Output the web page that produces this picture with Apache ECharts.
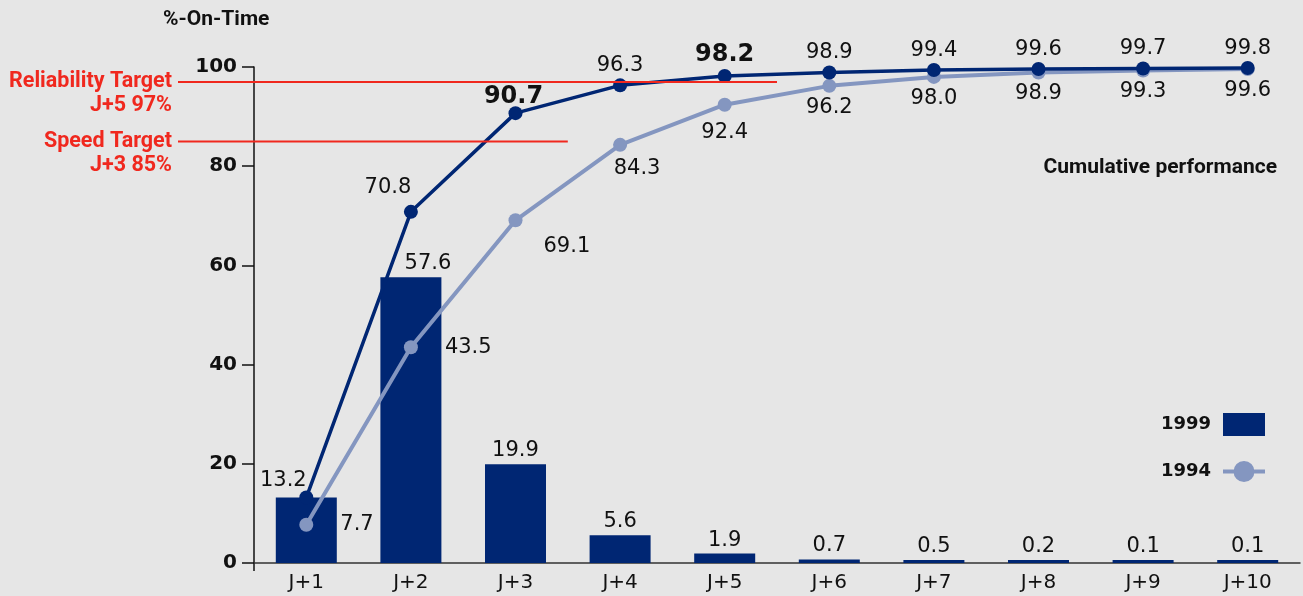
<!DOCTYPE html>
<html><head><meta charset="utf-8">
<script src="https://cdn.jsdelivr.net/npm/echarts@6/dist/echarts.min.js"></script>
<style>html,body{margin:0;padding:0;background:#e6e6e6}#c{width:1303px;height:596px}</style>
</head><body><div id="c"></div>
<script>
const categories = ['J+1','J+2','J+3','J+4','J+5','J+6','J+7','J+8','J+9','J+10'];
const dist1999 = [13.2, 57.6, 19.9, 5.6, 1.9, 0.7, 0.5, 0.2, 0.1, 0.1];
const cum1999 = [13.2, 70.8, 90.7, 96.3, 98.2, 98.9, 99.4, 99.6, 99.7, 99.8];
const cum1994 = [7.7, 43.5, 69.1, 84.3, 92.4, 96.2, 98.0, 98.9, 99.3, 99.6];
const yTicks = [0, 20, 40, 60, 80, 100];
const targetNames = ['Reliability Target', 'Speed Target'];
const targetSubs = ['J+5 97%', 'J+3 85%'];
const targetValues = [97, 85];
const targetDays = [5, 3];

const FONT = 'DejaVu Sans';
const NAVY = '#002673';
const LIGHT = '#8496c0';
const RED = '#f0281e';
const TXT = '#111111';
const fmt = v => Number(v).toFixed(1);

const chart = echarts.init(document.getElementById('c'), null, {renderer: 'canvas'});

const barData = dist1999.map((v, i) => {
  const d = {value: v};
  if (i === 0) d.label = {show: false};
  if (i === 1) d.label = {offset: [17, 0]};
  return d;
});
const cum99Data = cum1999.map((v, i) => {
  const d = {value: v};
  if (i === 0) d.label = {offset: [-23, 3]};
  if (i === 1) d.label = {offset: [-23, -5]};
  if (i === 2) d.label = {fontSize: 24, fontWeight: 'bold', offset: [-2, 5]};
  if (i === 4) d.label = {fontSize: 24, fontWeight: 'bold'};
  return d;
});
const cum94Data = cum1994.map((v, i) => {
  const d = {value: v};
  if (i === 0 || i === 1) d.label = {position: 'right', distance: 27};
  if (i === 2) d.label = {position: 'right', distance: 21, offset: [0, 26]};
  if (i === 3) d.label = {offset: [17, 2]};
  if (i === 4) d.label = {offset: [0, 6]};
  return d;
});

const lineIcon = 'path://M0,9H44V13H0Z M22,0A11,11,0,1,1,21.99,0Z';

chart.setOption({
  backgroundColor: '#e6e6e6',
  animation: false,
  textStyle: {fontFamily: FONT},
  grid: {left: 254, right: 3, top: 67, bottom: 33, containLabel: false},
  legend: {
    orient: 'vertical', right: 33, top: 408, align: 'right',
    itemWidth: 42, itemHeight: 23, itemGap: 25,
    data: [{name: '1999', icon: 'rect'}, {name: '1994', icon: lineIcon}],
    textStyle: {fontSize: 18, fontWeight: 'bold', color: TXT, fontFamily: FONT, padding: [0, 7, 0, 0]}
  },
  xAxis: {
    type: 'category', data: categories,
    axisLine: {lineStyle: {color: '#333', width: 1.5}},
    axisTick: {show: false},
    axisLabel: {fontSize: 20, color: TXT, margin: 10, fontFamily: FONT}
  },
  yAxis: {
    type: 'value', min: yTicks[0], max: yTicks[yTicks.length - 1], interval: yTicks[1] - yTicks[0],
    axisLine: {show: true, lineStyle: {color: '#111', width: 1.5}},
    axisTick: {show: true, length: 12, lineStyle: {color: '#111', width: 1.5}},
    splitLine: {show: false},
    axisLabel: {fontSize: 20, fontWeight: 'bold', color: TXT, margin: 17, fontFamily: FONT}
  },
  series: [
    {
      name: '1999', type: 'bar', data: barData, barWidth: 61, barMinHeight: 3,
      itemStyle: {color: NAVY},
      label: {show: true, position: 'top', distance: 3, fontSize: 21, color: TXT, fontFamily: FONT, formatter: p => fmt(p.value)},
      z: 1
    },
    {
      name: '1994', type: 'line', data: cum94Data,
      symbol: 'circle', symbolSize: 14, showSymbol: true,
      lineStyle: {color: LIGHT, width: 4}, itemStyle: {color: LIGHT},
      label: {show: true, position: 'bottom', distance: 4, fontSize: 21, color: TXT, fontFamily: FONT, formatter: p => fmt(p.value)},
      z: 3
    },
    {
      name: 'Cumulative 1999', type: 'line', data: cum99Data,
      symbol: 'circle', symbolSize: 14, showSymbol: true,
      lineStyle: {color: NAVY, width: 3.5}, itemStyle: {color: NAVY},
      label: {show: true, position: 'top', distance: 2, fontSize: 21, color: TXT, fontFamily: FONT, formatter: p => fmt(p.value)},
      z: 4
    }
  ]
});

// annotations positioned through the chart's own scales
const yPx = v => chart.convertToPixel({yAxisIndex: 0}, v);
const xPx = i => chart.convertToPixel({xAxisIndex: 0}, categories[i]);
const axisX = chart.getModel().getComponent('grid').coordinateSystem.getRect().x;
const graphics = [
  {type: 'text', left: 163, top: 9, style: {text: '%-On-Time', font: 'bold 21px Roboto', fill: TXT}},
  {type: 'text', x: 1277, y: 168, style: {text: 'Cumulative performance', font: 'bold 21px Roboto', fill: TXT, align: 'right', verticalAlign: 'middle'}},
  {type: 'line', shape: {x1: axisX, y1: yPx(0), x2: axisX, y2: yPx(0) + 8}, style: {stroke: '#111', lineWidth: 1.5}}
];
targetValues.forEach((v, k) => {
  const y = yPx(v);
  const d = targetDays[k] - 1;
  const xEnd = (xPx(d) + xPx(d + 1)) / 2;
  graphics.push({type: 'line', shape: {x1: 178, y1: y, x2: xEnd, y2: y}, style: {stroke: RED, lineWidth: 2}, z: 5});
  graphics.push({type: 'text', x: 172, y: y, style: {text: targetNames[k], font: 'bold 21.5px Roboto', fill: RED, align: 'right', verticalAlign: 'middle'}});
  graphics.push({type: 'text', x: 172, y: y + 24, style: {text: targetSubs[k], font: 'bold 21.5px Roboto', fill: RED, align: 'right', verticalAlign: 'middle'}});
});
chart.setOption({graphic: graphics});
</script>
</body></html>
